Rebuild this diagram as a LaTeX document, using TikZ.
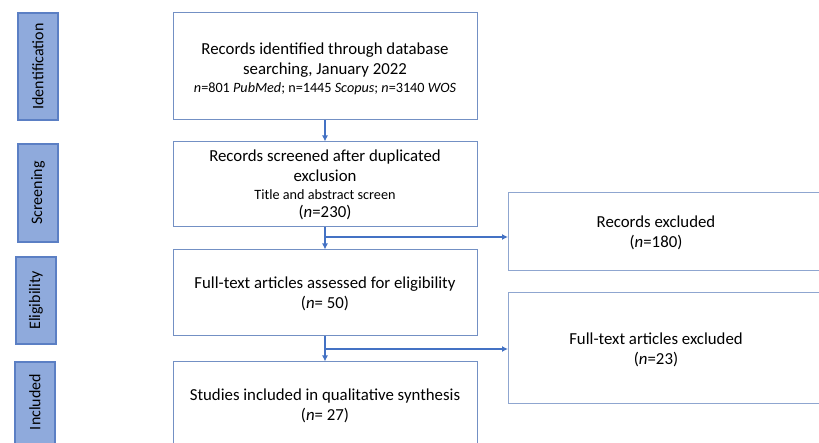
\documentclass[tikz,border=0pt]{standalone}
\usepackage{fontspec}
\setmainfont{Carlito}
\usetikzlibrary{arrows.meta}
\definecolor{sidefill}{HTML}{8FAADC}
\definecolor{sidedraw}{HTML}{5B7FC4}
\definecolor{boxdraw}{HTML}{7390C4}
\definecolor{arrowc}{HTML}{4472C4}
\tikzset{
  sidebox/.style={draw=sidedraw, fill=sidefill, line width=1.2pt},
  mainbox/.style={draw=boxdraw, line width=1pt},
  sidelabel/.style={rotate=90, font=\fontsize{16}{18}\selectfont, inner sep=0pt},
  boxtext/.style={align=center, font=\fontsize{16.8}{20}\selectfont, inner sep=0pt},
  smalltext/.style={font=\fontsize{14.2}{17}\selectfont},
  flow/.style={draw=arrowc, line width=1.5pt, -{Latex[length=6pt,width=6pt]}},
}
\begin{document}
\begin{tikzpicture}[x=1pt,y=-1pt]
\useasboundingbox (0,0) rectangle (819,443);
\clip (0,0) rectangle (819,443);
% side labels
\draw[sidebox] (18,13) rectangle (58,120);
\node[sidelabel] (lid) at (38,66.5) {Identification};
\draw[sidebox] (18,144) rectangle (58,242);
\node[sidelabel] (lsc) at (38,193) {Screening};
\draw[sidebox] (16,257) rectangle (56,344);
\node[sidelabel] (lel) at (36,300.5) {Eligibility};
\draw[sidebox] (15,362) rectangle (55,460);
\node[sidelabel] (lin) at (35,402) {Included};
% main boxes
\node[mainbox, minimum width=304, minimum height=107, inner sep=0pt] (b1) at (325,66.5) {};
\node[boxtext] (t1) at (325,69) {Records identified through database\\searching, January 2022\\[-2pt]{\fontsize{14.2}{17}\selectfont\textit{n}=801 \textit{PubMed}; n=1445 \textit{Scopus}; \textit{n}=3140 \textit{WOS}}};
\node[mainbox, minimum width=304, minimum height=85, inner sep=0pt] (b2) at (325,184.5) {};
\node[boxtext] (t2) at (325,184.5) {Records screened after duplicated\\exclusion\\[-2pt]{\fontsize{14.2}{17}\selectfont Title and abstract screen}\\[-2pt](\textit{n}=230)};
\node[mainbox, minimum width=304, minimum height=86, inner sep=0pt] (b3) at (325,293) {};
\node[boxtext] (t3) at (325,293.5) {Full-text articles assessed for eligibility\\(\textit{n}= 50)};
\node[mainbox, minimum width=304, minimum height=86, inner sep=0pt] (b4) at (325,405) {};
\node[boxtext] (t4) at (325,405.5) {Studies included in qualitative synthesis\\(\textit{n}= 27)};
% right boxes
\node[mainbox, draw=boxdraw!80, minimum width=360, minimum height=78, inner sep=0pt, anchor=west] (r1) at (508,232) {};
\node[boxtext] (rt1) at (656,233) {Records excluded\\(\textit{n}=180)};
\node[mainbox, draw=boxdraw!80, minimum width=360, minimum height=110, inner sep=0pt, anchor=west] (r2) at (508,348) {};
\node[boxtext] (rt2) at (656,350) {Full-text articles excluded\\(\textit{n}=23)};
% connectors
\coordinate (j1) at (325,237);
\coordinate (j2) at (325,349);
\draw[flow] (b1.south) -- (b2.north);
\draw[flow] (b2.south) -- (b3.north);
\draw[flow] (j1) -- (r1.west |- j1);
\draw[flow] (b3.south) -- (b4.north);
\draw[flow] (j2) -- (r2.west |- j2);
\end{tikzpicture}
\end{document}
